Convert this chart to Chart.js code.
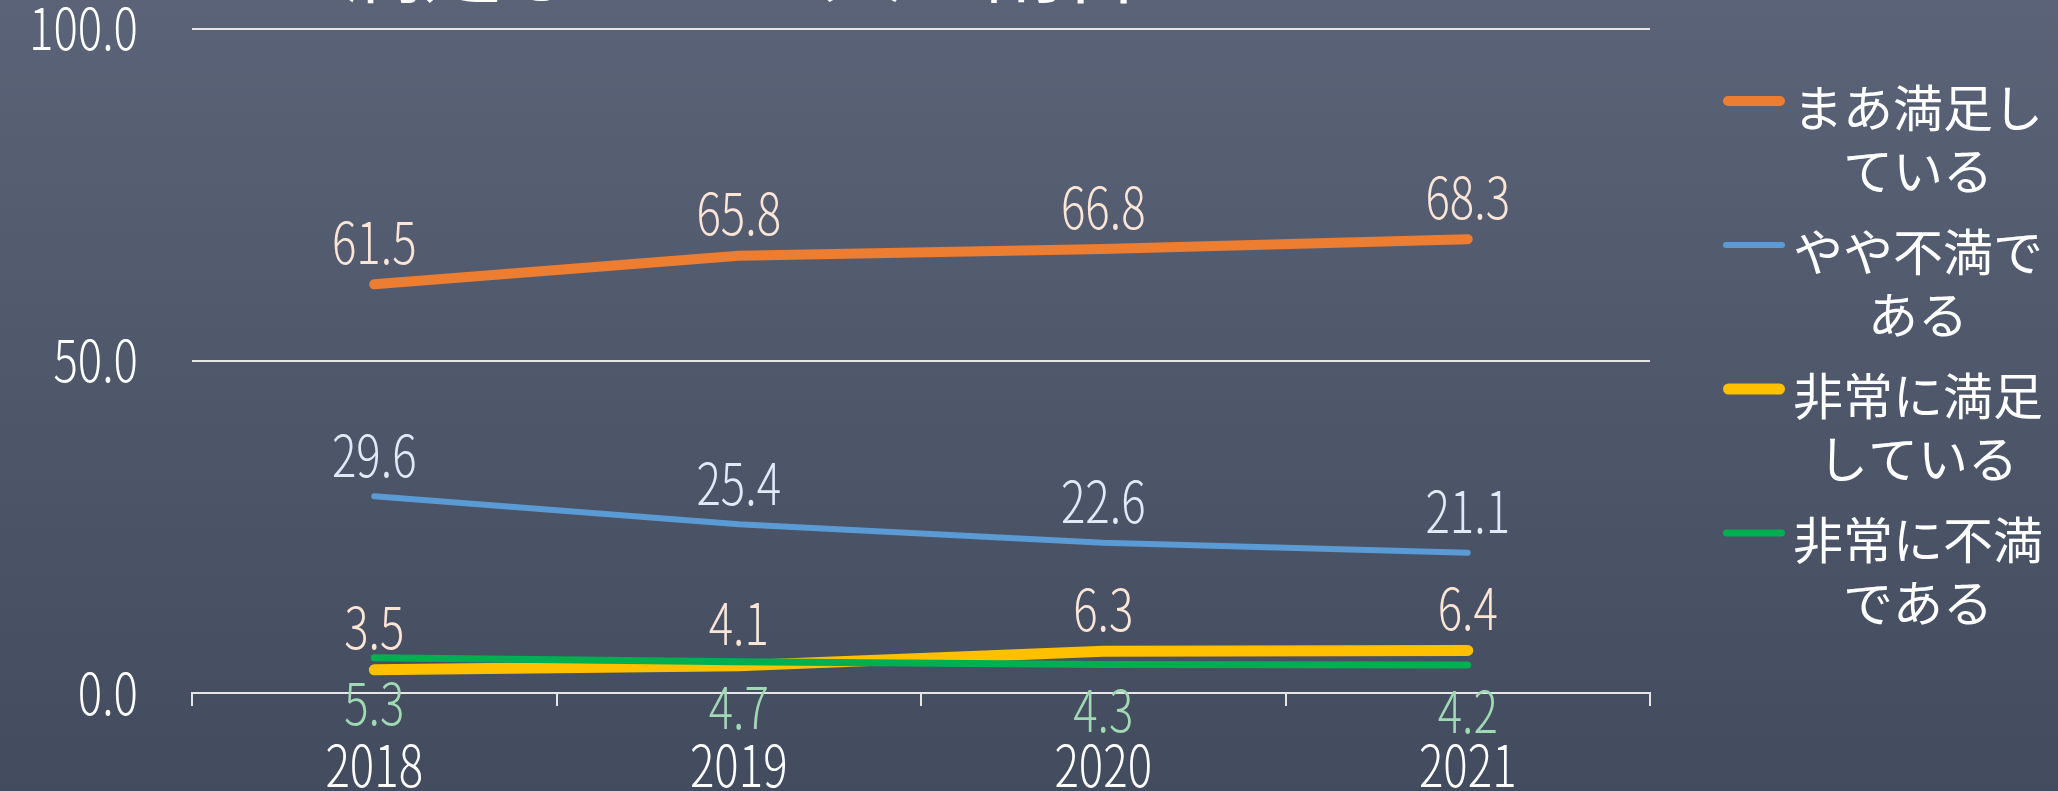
<!DOCTYPE html>
<html lang="ja">
<head>
<meta charset="utf-8">
<title>満足している人の割合</title>
<script src="https://cdn.jsdelivr.net/npm/chart.js@4.4.1/dist/chart.umd.min.js"></script>
<style>
  html, body { margin: 0; padding: 0; background: #4f576b; overflow: hidden; }
  #chart { display: block; }
</style>
</head>
<body>
<canvas id="chart" width="2058" height="791"></canvas>
<script>
// chart data
const years = ['2018', '2019', '2020', '2021'];
const seriesNames = ['まあ満足している', 'やや不満である', '非常に満足している', '非常に不満である'];
const legendLines = [['まあ満足し', 'ている'], ['やや不満で', 'ある'], ['非常に満足', 'している'], ['非常に不満', 'である']];
const somewhatSatisfied = [61.5, 65.8, 66.8, 68.3];
const somewhatDissatisfied = [29.6, 25.4, 22.6, 21.1];
const verySatisfied = [3.5, 4.1, 6.3, 6.4];
const veryDissatisfied = [5.3, 4.7, 4.3, 4.2];
const yTicks = [0, 50, 100];
const chartTitle = '満足している人の割合';

const jpFont = "'Noto Sans CJK JP', sans-serif";
const SQUEEZE = 0.8; // numbers in the original are drawn horizontally condensed

// gradient background behind everything
const backgroundPlugin = {
    id: 'background',
    beforeDraw: function(chart) {
        const ctx = chart.ctx;
        const g = ctx.createLinearGradient(0, 0, 0, chart.height);
        g.addColorStop(0, '#5a6377');
        g.addColorStop(1, '#434b5e');
        ctx.save();
        ctx.fillStyle = g;
        ctx.fillRect(0, 0, chart.width, chart.height);
        ctx.restore();
    }
};

// condense the axis tick labels while the scales are drawn
const squeezeTicksPlugin = {
    id: 'squeezeTicks',
    beforeDraw: function(chart) {
        chart.ctx.fillText = function(text, x, y) {
            const w = this.measureText(text).width;
            CanvasRenderingContext2D.prototype.fillText.call(this, text, x, y, w * SQUEEZE);
        };
    },
    beforeDatasetsDraw: function(chart) {
        delete chart.ctx.fillText;
    }
};

// title sits mostly above the visible canvas, only its bottom shows
const cutTitlePlugin = {
    id: 'cutTitle',
    afterDraw: function(chart) {
        const ctx = chart.ctx;
        ctx.save();
        ctx.font = '80px ' + jpFont;
        ctx.fillStyle = '#ffffff';
        ctx.textAlign = 'center';
        ctx.textBaseline = 'alphabetic';
        ctx.fillText(chartTitle, chart.chartArea.left + 550, -4);
        ctx.restore();
    }
};

// value labels over / under each point
const valueLabelPlugin = {
    id: 'valueLabels',
    afterDatasetsDraw: function(chart) {
        const ctx = chart.ctx;
        ctx.save();
        ctx.font = '300 57px ' + jpFont;
        ctx.textAlign = 'center';
        ctx.textBaseline = 'middle';
        chart.data.datasets.forEach((ds, i) => {
            const meta = chart.getDatasetMeta(i);
            ctx.fillStyle = ds.labelColor;
            meta.data.forEach((pt, j) => {
                const txt = ds.data[j].toFixed(1);
                const w = ctx.measureText(txt).width;
                ctx.fillText(txt, pt.x, pt.y + ds.labelOffset, w * SQUEEZE);
            });
        });
        ctx.restore();
    }
};

// legend on the right, text wrapped on two centred lines
const sideLegendPlugin = {
    id: 'sideLegend',
    afterDraw: function(chart) {
        const ctx = chart.ctx;
        const left = chart.chartArea.right + 73;
        ctx.save();
        ctx.font = '50px ' + jpFont;
        ctx.textAlign = 'center';
        ctx.textBaseline = 'middle';
        chart.data.datasets.forEach((ds, i) => {
            const y = 101 + i * 144;
            ctx.strokeStyle = ds.borderColor;
            ctx.lineWidth = ds.borderWidth;
            ctx.lineCap = 'round';
            ctx.beginPath();
            ctx.moveTo(left + ds.borderWidth / 2, y);
            ctx.lineTo(left + 62 - ds.borderWidth / 2, y);
            ctx.stroke();
            ctx.fillStyle = '#ffffff';
            legendLines[i].forEach((line, k) => {
                ctx.fillText(line, left + 195, y + 7 + k * 63);
            });
        });
        ctx.restore();
    }
};

function lineSet(label, data, color, width, labelColor, labelOffset, order) {
    return {
        label: label,
        data: data,
        borderColor: color,
        backgroundColor: color,
        borderWidth: width,
        borderCapStyle: 'round',
        borderJoinStyle: 'round',
        pointRadius: 0,
        tension: 0,
        fill: false,
        order: order,
        labelColor: labelColor,
        labelOffset: labelOffset
    };
}

new Chart(document.getElementById('chart'), {
    type: 'line',
    data: {
        labels: years,
        datasets: [
            lineSet(seriesNames[0], somewhatSatisfied, '#ed7d31', 10, '#fbe5d6', -42, 3),
            lineSet(seriesNames[1], somewhatDissatisfied, '#5b9bd5', 6, '#deebf7', -41, 2),
            lineSet(seriesNames[2], verySatisfied, '#ffc000', 11, '#fbe5d6', -42, 1),
            lineSet(seriesNames[3], veryDissatisfied, '#00b050', 7, '#a0d9b4', 46, 0)
        ]
    },
    options: {
        responsive: false,
        animation: false,
        layout: {
            padding: { left: 13, right: 408, top: 0, bottom: 0 }
        },
        plugins: {
            legend: { display: false },
            title: { display: false },
            tooltip: { enabled: false }
        },
        scales: {
            x: {
                offset: true,
                afterFit: function(scale) { scale.height = 98; },
                grid: {
                    offset: true,
                    drawOnChartArea: false,
                    drawTicks: true,
                    tickLength: 13,
                    color: '#e6e6e6',
                    lineWidth: 2
                },
                border: { display: true, color: '#e6e6e6', width: 2 },
                ticks: {
                    color: '#ffffff',
                    padding: 31,
                    maxRotation: 0,
                    font: { family: jpFont, size: 57, weight: '300', lineHeight: 1 }
                }
            },
            y: {
                min: 0,
                max: 100,
                afterBuildTicks: function(axis) {
                    axis.ticks = yTicks.map(v => ({ value: v }));
                },
                afterFit: function(scale) { scale.width = 179; },
                grid: {
                    color: '#e6e6e6',
                    lineWidth: 2,
                    drawTicks: true,
                    tickLength: 54,
                    tickColor: 'rgba(0,0,0,0)'
                },
                border: { display: false },
                ticks: {
                    color: '#ffffff',
                    padding: 0,
                    font: { family: jpFont, size: 57, weight: '300', lineHeight: 1 },
                    callback: function(value) { return value.toFixed(1); }
                }
            }
        }
    },
    plugins: [backgroundPlugin, squeezeTicksPlugin, cutTitlePlugin, valueLabelPlugin, sideLegendPlugin]
});
</script>
</body>
</html>
